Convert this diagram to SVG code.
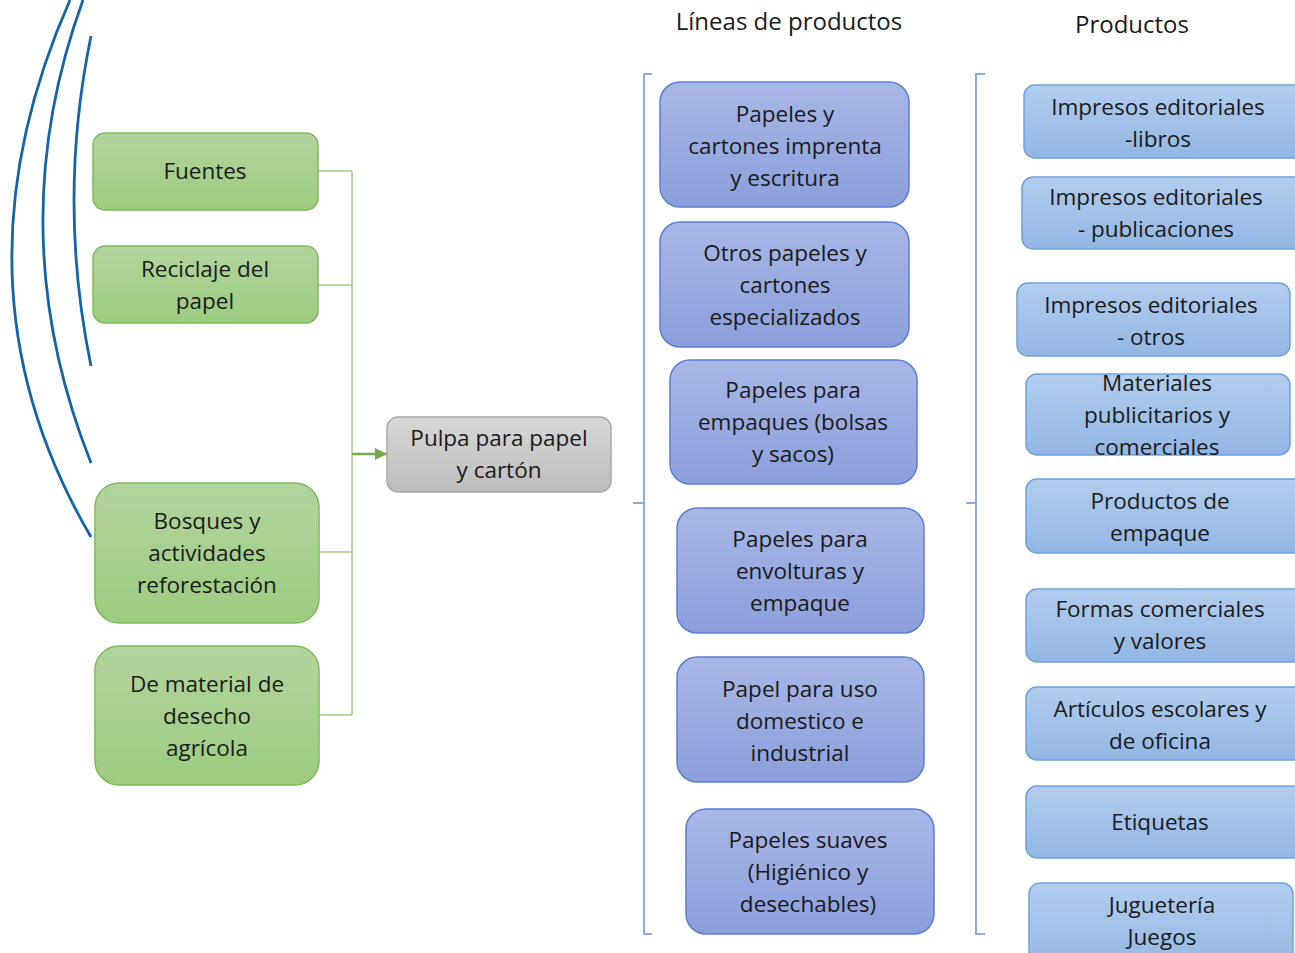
<svg xmlns="http://www.w3.org/2000/svg" width="1295" height="953" viewBox="0 0 1295 953">
<defs>
<linearGradient id="gGreen" x1="0" y1="0" x2="0" y2="1"><stop offset="0" stop-color="#b2d49e"/><stop offset="1" stop-color="#9ccc7f"/></linearGradient>
<linearGradient id="gGray" x1="0" y1="0" x2="0" y2="1"><stop offset="0" stop-color="#d8d8d8"/><stop offset="1" stop-color="#bcbcbc"/></linearGradient>
<linearGradient id="gPurple" x1="0" y1="0" x2="0" y2="1"><stop offset="0" stop-color="#a9b7e6"/><stop offset="1" stop-color="#8b9fdc"/></linearGradient>
<linearGradient id="gBlue" x1="0" y1="0" x2="0" y2="1"><stop offset="0" stop-color="#b2cdee"/><stop offset="1" stop-color="#92b6e4"/></linearGradient>
<marker id="arr" markerWidth="12" markerHeight="12" refX="11" refY="6" orient="auto" markerUnits="userSpaceOnUse" viewBox="0 0 12 12"><path d="M0,0 L12,6 L0,12 z" fill="#70ad47"/></marker>
</defs>
<style>
text{font-family:"Open Sans","Liberation Sans",sans-serif;font-size:22.5px;fill:#1a1a1a;text-anchor:middle}
.title{font-size:24px}
.green{fill:url(#gGreen);stroke:#7fba5a;stroke-width:1.5}
.gray{fill:url(#gGray);stroke:#a8a8a8;stroke-width:1.5}
.purple{fill:url(#gPurple);stroke:#5b7fd0;stroke-width:1.5}
.blue{fill:url(#gBlue);stroke:#6ea2da;stroke-width:1.5}
.conn{fill:none;stroke:#9fcc82;stroke-width:1.5}
.brk{fill:none;stroke:#8eaadf;stroke-width:2}
.arc{fill:none;stroke:#1565a6;stroke-width:2.8}
</style>
<rect width="1295" height="953" fill="#ffffff"/>
<g id="arcs">
<path class="arc" d="M70,0 Q-56,286 91,537"/>
<path class="arc" d="M83,0 Q-1,231 91,463"/>
<path class="arc" d="M91,36 Q57,201 91,366"/>
</g>
<g id="connectors">
<path class="conn" d="M318,171 H352 M318,285 H352 M319,552 H352 M319,715 H352 M352,171 V715"/>
<path d="M352,454 H386" fill="none" stroke="#70ad47" stroke-width="2.5" marker-end="url(#arr)"/>
<path class="brk" d="M652,74 H644 V934 H652 M643,503 H633"/>
<path class="brk" d="M985,74 H976 V934 H985 M975,503 H966"/>
</g>
<g id="titles">
<text class="title" x="789" y="30">Líneas de productos</text>
<text class="title" x="1132" y="33">Productos</text>
</g>
<g id="fuentes"><rect class="green" x="93" y="133" width="225" height="77" rx="12"/><text x="205" y="179">Fuentes</text></g>
<g id="reciclaje"><rect class="green" x="93" y="246" width="225" height="77" rx="12"/><text x="205" y="277">Reciclaje del</text><text x="205" y="309">papel</text></g>
<g id="bosques"><rect class="green" x="95" y="483" width="224" height="140" rx="24"/><text x="207" y="529">Bosques y</text><text x="207" y="561">actividades</text><text x="207" y="593">reforestación</text></g>
<g id="desecho"><rect class="green" x="95" y="646" width="224" height="139" rx="24"/><text x="207" y="692">De material de</text><text x="207" y="724">desecho</text><text x="207" y="756">agrícola</text></g>
<g id="pulpa"><rect class="gray" x="387" y="417" width="224" height="75" rx="11"/><text x="499" y="446">Pulpa para papel</text><text x="499" y="478">y cartón</text></g>
<g id="l1"><rect class="purple" x="660" y="82" width="249" height="125" rx="20"/><text x="785" y="122">Papeles y</text><text x="785" y="154">cartones imprenta</text><text x="785" y="186">y escritura</text></g>
<g id="l2"><rect class="purple" x="660" y="222" width="249" height="125" rx="20"/><text x="785" y="261">Otros papeles y</text><text x="785" y="293">cartones</text><text x="785" y="325">especializados</text></g>
<g id="l3"><rect class="purple" x="670" y="360" width="247" height="124" rx="20"/><text x="793" y="398">Papeles para</text><text x="793" y="430">empaques (bolsas</text><text x="793" y="462">y sacos)</text></g>
<g id="l4"><rect class="purple" x="677" y="508" width="247" height="125" rx="20"/><text x="800" y="547">Papeles para</text><text x="800" y="579">envolturas y</text><text x="800" y="611">empaque</text></g>
<g id="l5"><rect class="purple" x="677" y="657" width="247" height="125" rx="20"/><text x="800" y="697">Papel para uso</text><text x="800" y="729">domestico e</text><text x="800" y="761">industrial</text></g>
<g id="l6"><rect class="purple" x="686" y="809" width="248" height="125" rx="20"/><text x="808" y="848">Papeles suaves</text><text x="808" y="880">(Higiénico y</text><text x="808" y="912">desechables)</text></g>
<g id="p1"><rect class="blue" x="1024" y="85" width="285" height="73" rx="11"/><text x="1158" y="115">Impresos editoriales</text><text x="1158" y="147">-libros</text></g>
<g id="p2"><rect class="blue" x="1022" y="177" width="285" height="72" rx="11"/><text x="1156" y="205">Impresos editoriales</text><text x="1156" y="237">- publicaciones</text></g>
<g id="p3"><rect class="blue" x="1017" y="283" width="273" height="73" rx="11"/><text x="1151" y="313">Impresos editoriales</text><text x="1151" y="345">- otros</text></g>
<g id="p4"><rect class="blue" x="1026" y="374" width="264" height="81" rx="11"/><text x="1157" y="391">Materiales</text><text x="1157" y="423">publicitarios y</text><text x="1157" y="455">comerciales</text></g>
<g id="p5"><rect class="blue" x="1026" y="479" width="285" height="74" rx="11"/><text x="1160" y="509">Productos de</text><text x="1160" y="541">empaque</text></g>
<g id="p6"><rect class="blue" x="1026" y="589" width="285" height="73" rx="11"/><text x="1160" y="617">Formas comerciales</text><text x="1160" y="649">y valores</text></g>
<g id="p7"><rect class="blue" x="1026" y="687" width="285" height="73" rx="11"/><text x="1160" y="717">Artículos escolares y</text><text x="1160" y="749">de oficina</text></g>
<g id="p8"><rect class="blue" x="1026" y="786" width="285" height="72" rx="11"/><text x="1160" y="830">Etiquetas</text></g>
<g id="p9"><rect class="blue" x="1029" y="883" width="264" height="90" rx="11"/><text x="1162" y="913">Juguetería</text><text x="1162" y="945">Juegos</text></g>
</svg>
